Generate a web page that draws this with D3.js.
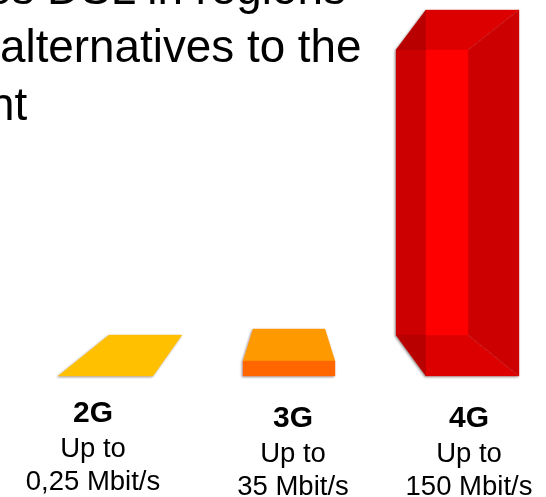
<!DOCTYPE html>
<html>
<head>
<meta charset="utf-8">
<script src="https://cdnjs.cloudflare.com/ajax/libs/d3/7.8.5/d3.min.js"></script>
<style>
  html, body { margin: 0; padding: 0; background: #fff; overflow: hidden; }
  text { font-family: "Liberation Sans", Arial, sans-serif; fill: #000; }
</style>
</head>
<body>
<svg id="chart" width="546" height="497"></svg>
<script>
/********************** DATA *************************/
const categories = ["2G", "3G", "4G"];
const speeds = [0.25, 35, 150]; // Mbit/s
const speedLabels = ["0,25 Mbit/s", "35 Mbit/s", "150 Mbit/s"];
const upToLabel = "Up to";
const headingLines = ["es DSL in regions", "alternatives to the", "nt"];

/********************** SCALES *************************/
const svg = d3.select("#chart");

// The picture is not to scale, so the height scale is piecewise
const y = d3.scaleLinear().domain([0, 0.25, 35, 150]).range([376, 335, 329, 10]);
const xLeft = d3.scaleOrdinal().domain(categories).range([58, 243, 396]);
const xLabel = d3.scaleOrdinal().domain(categories).range([93, 293, 469]);
const labelTop = d3.scaleOrdinal().domain(categories).range([422, 427, 427]);

const poly = (pts) => "M" + pts.map(p => p.join(",")).join("L") + "Z";

const defs = svg.append("defs");
const soft = defs.append("filter").attr("id", "soft")
    .attr("x", "-5%").attr("y", "-5%").attr("width", "110%").attr("height", "110%");
soft.append("feGaussianBlur").attr("stdDeviation", 0.35);
const shadow = defs.append("filter").attr("id", "shadow")
    .attr("x", "-5%").attr("y", "-5%").attr("width", "110%").attr("height", "110%");
shadow.append("feDropShadow").attr("dx", -1).attr("dy", 1)
    .attr("stdDeviation", 1).attr("flood-color", "#666").attr("flood-opacity", 0.7);
shadow.append("feGaussianBlur").attr("stdDeviation", 0.5);

/********************** BARS *************************/
const base = y(0);

// Each generation is drawn as a list of [path points, fill]
function barFaces(cat, val) {
    const x0 = xLeft(cat);
    const top = y(val);
    if (cat === "2G") {
        return [[[[x0, base], [x0 + 51, top], [x0 + 124, top], [x0 + 95, base]], "#ffc000"]];
    }
    if (cat === "3G") {
        return [
            [[[x0, top + 32], [x0 + 10, top], [x0 + 82, top], [x0 + 92, top + 32]], "#ff9900"],
            [[[x0, top + 32], [x0 + 92, top + 32], [x0 + 92, base], [x0, base]], "#ff6600"]
        ];
    }
    const xa = x0 + 30, xb = x0 + 72, xr = x0 + 123;
    const ft = top + 40, fb = base - 41;
    return [
        [[[x0, ft], [xa, top], [xa, base], [x0, fb]], "#cc0000"],
        [[[x0, ft], [xa, top], [xa, ft]], "#b80000"],
        [[[x0, fb], [xa, fb], [xa, base]], "#b80000"],
        [[[xa, top], [xr, top], [xb, ft], [xa, ft]], "#dc0000"],
        [[[xa, fb], [xb, fb], [xr, base], [xa, base]], "#dc0000"],
        [[[xb, ft], [xr, top], [xr, base], [xb, fb]], "#cc0000"],
        [[[xa, ft], [xb, ft], [xb, fb], [xa, fb]], "#ff0000"]
    ];
}

const bars = svg.selectAll("g.bar")
    .data(categories.map((c, i) => ({ cat: c, val: speeds[i] })))
    .join("g")
    .attr("class", "bar")
    .attr("filter", "url(#shadow)");

bars.selectAll("path")
    .data(d => barFaces(d.cat, d.val))
    .join("path")
    .attr("d", d => poly(d[0]))
    .attr("fill", d => d[1])
    .attr("stroke", d => d[1])
    .attr("stroke-width", 0.4);

/********************** TEXT *************************/
// The heading runs off the top and left of the crop in the original
const headingX = [-14, 0, -11];
const heading = svg.append("g").attr("font-size", 45.8).attr("filter", "url(#soft)");
heading.selectAll("text")
    .data(headingLines)
    .join("text")
    .attr("x", (d, i) => headingX[i])
    .attr("y", (d, i) => 4 + i * 58)
    .text(d => d);

const labels = svg.selectAll("g.label")
    .data(categories.map((c, i) => ({ cat: c, speed: speedLabels[i] })))
    .join("g")
    .attr("class", "label")
    .attr("text-anchor", "middle")
    .attr("filter", "url(#soft)");

labels.append("text")
    .attr("x", d => xLabel(d.cat))
    .attr("y", d => labelTop(d.cat))
    .attr("font-size", 30)
    .attr("font-weight", "bold")
    .text(d => d.cat);

labels.append("text")
    .attr("x", d => xLabel(d.cat))
    .attr("y", d => labelTop(d.cat) + 35)
    .attr("font-size", 27.5)
    .text(upToLabel);

labels.append("text")
    .attr("x", d => xLabel(d.cat))
    .attr("y", d => labelTop(d.cat) + 68)
    .attr("font-size", 27.5)
    .text(d => d.speed);
</script>
</body>
</html>
